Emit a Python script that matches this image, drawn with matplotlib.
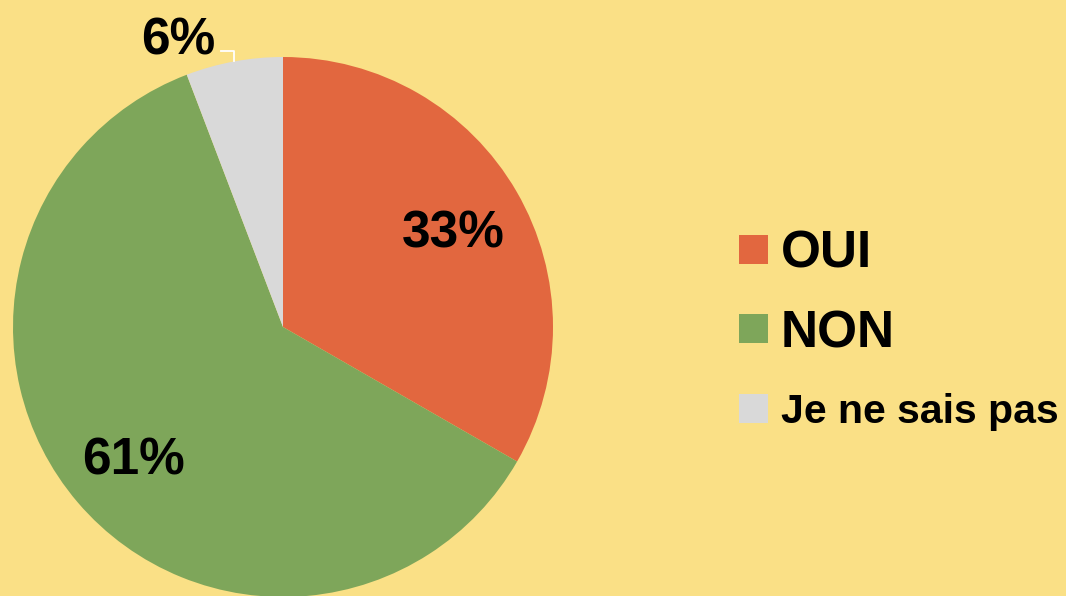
import numpy as np
import matplotlib
matplotlib.use("Agg")
import matplotlib.pyplot as plt
from matplotlib.patches import Rectangle

# ---------------------------
# Data
# ---------------------------
categories = ["OUI", "NON", "Je ne sais pas"]
values = [33.3, 60.9, 5.8]
colors = ["#E2673F", "#7EA65A", "#D9D9D9"]
legend_sizes = [37, 37, 29.5]

BG = "#FAE086"
W, H = 1066, 596

plt.rcParams['font.family'] = ['Liberation Sans', 'DejaVu Sans']

fig = plt.figure(figsize=(W / 100, H / 100), dpi=100, facecolor=BG)
ax = fig.add_axes([0, 0, 1, 1])
ax.set_facecolor(BG)

# pie in pixel units (1 unit = 1 px, y up)
cx, cy, R = 283, H - 327, 270
wedges, _ = ax.pie(values, colors=colors, startangle=90, counterclock=False,
                   center=(cx, cy), radius=R, frame=True,
                   wedgeprops=dict(linewidth=0))

for i, w in enumerate(wedges):
    mid = np.deg2rad((w.theta1 + w.theta2) / 2)
    label = f"{values[i]:.0f}%"
    if values[i] >= 10:
        d = 0.73 * R
        ax.text(cx + d * np.cos(mid), cy + d * np.sin(mid), label,
                ha='center', va='center_baseline', fontsize=37, fontweight='bold')
    else:
        ex, ey = cx + R * np.cos(mid), cy + R * np.sin(mid)
        ax.plot([ex, ex, ex - 13], [ey, ey + 10, ey + 10], color='white', lw=1.3)
        ax.text(ex - 56, ey + 26, label, ha='center', va='center_baseline',
                fontsize=37, fontweight='bold')

# legend, drawn by hand
for i, (cat, col) in enumerate(zip(categories, colors)):
    y = H - (249 + i * 79.5)
    ax.add_patch(Rectangle((739, y - 14.5), 29, 29, facecolor=col, edgecolor='none'))
    ax.text(781, y, cat, ha='left', va='center_baseline',
            fontsize=legend_sizes[i], fontweight='bold')

ax.set_xlim(0, W)
ax.set_ylim(0, H)
ax.set_aspect('equal')
ax.axis('off')

fig.savefig("out.png", dpi=100, facecolor=BG)
